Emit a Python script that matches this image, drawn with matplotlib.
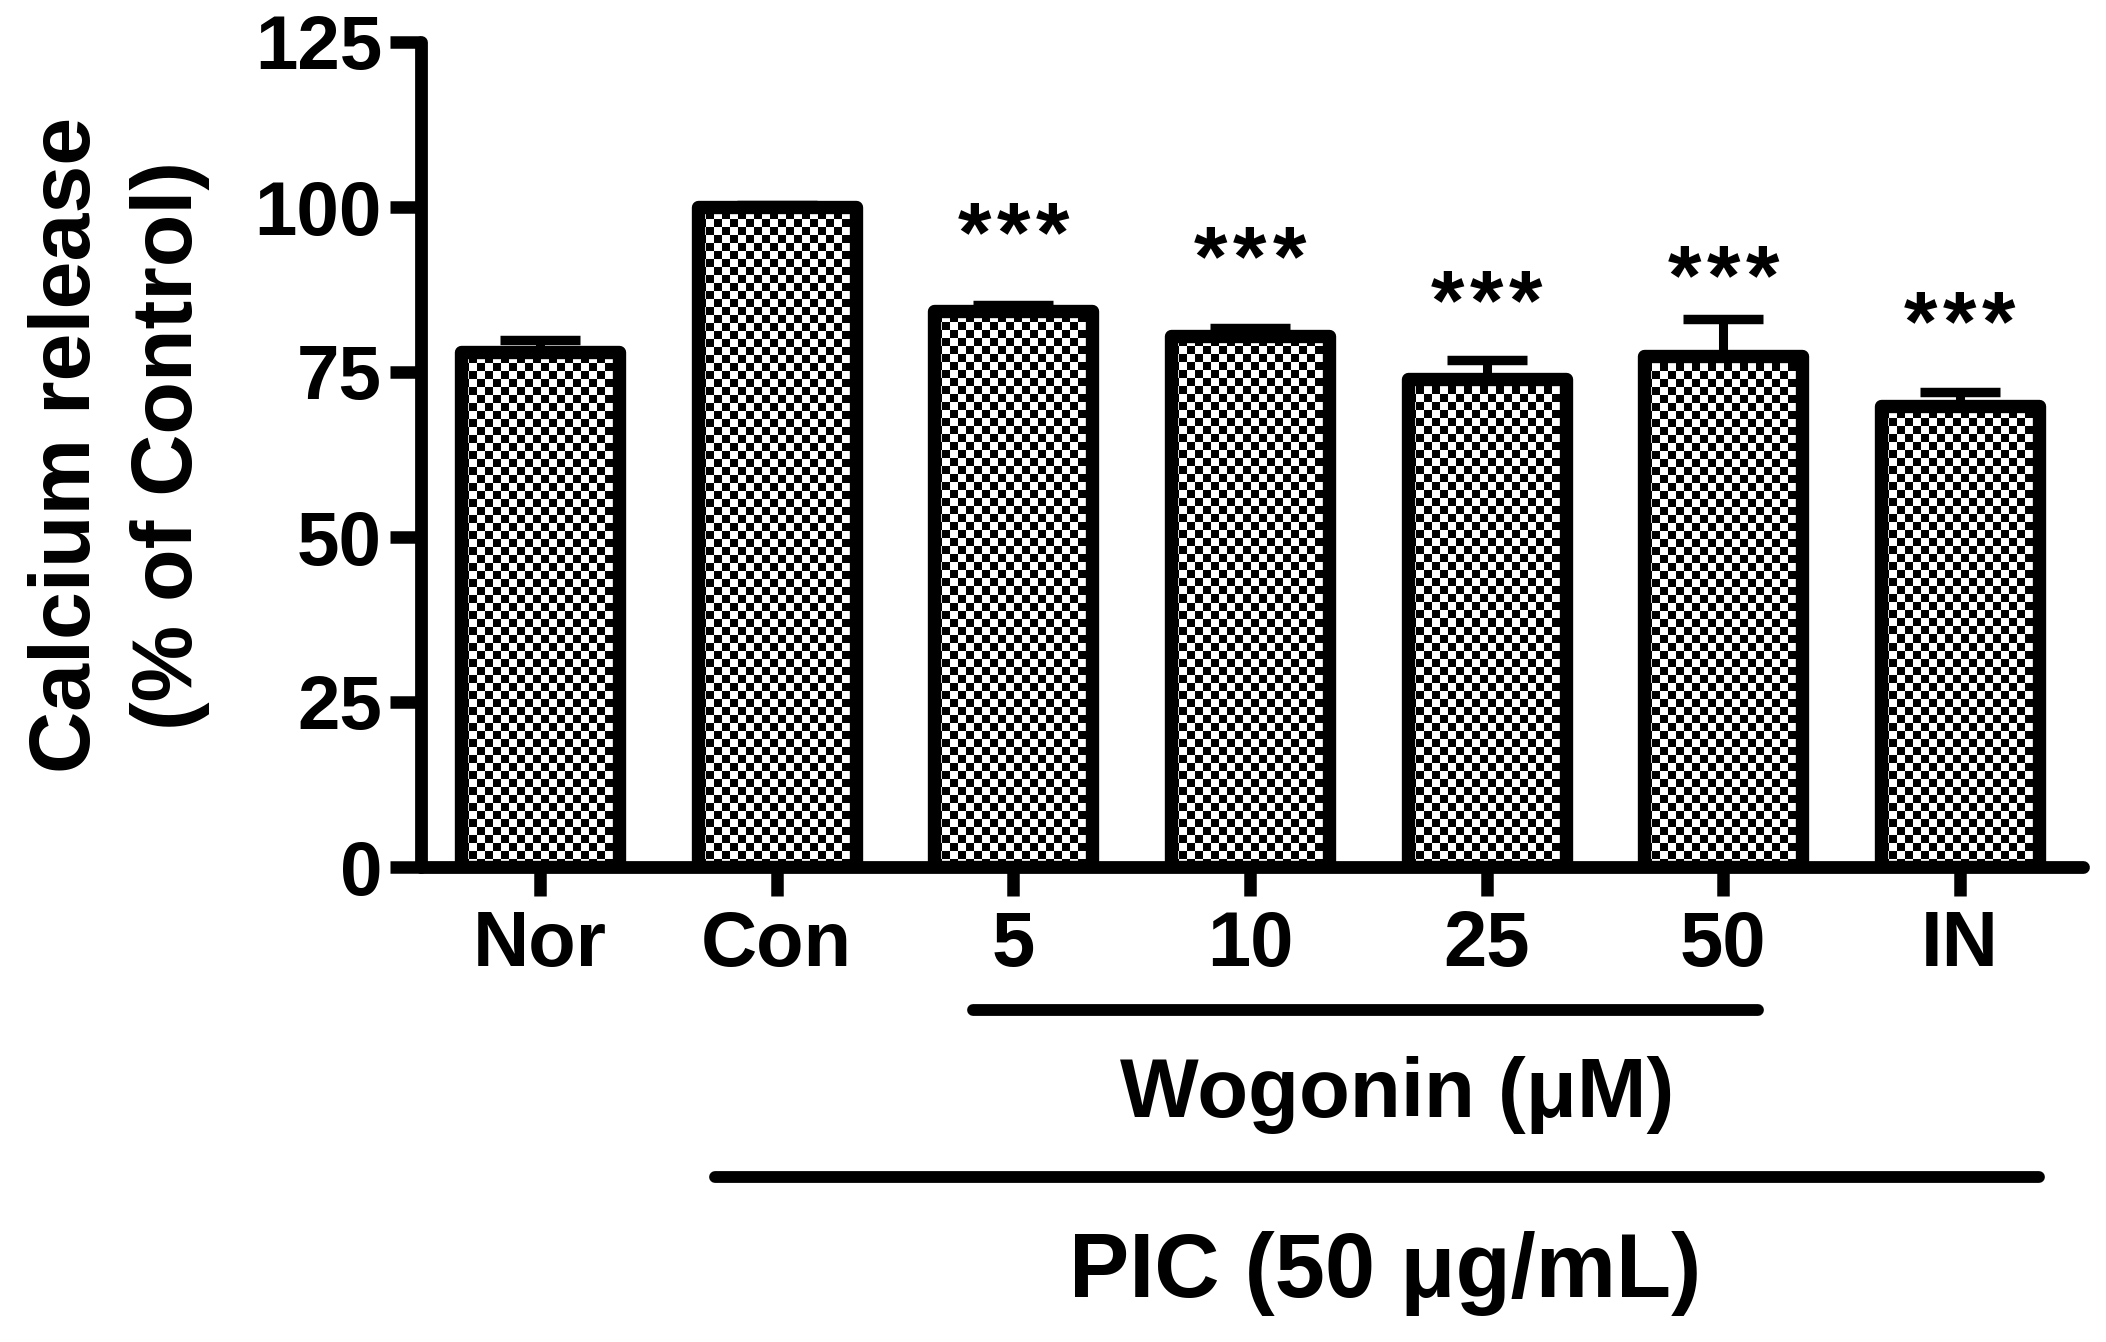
import numpy as np
import matplotlib
matplotlib.use("Agg")
import matplotlib.pyplot as plt
from matplotlib.transforms import blended_transform_factory

plt.rcParams['font.family'] = ['Liberation Sans', 'DejaVu Sans']
plt.rcParams['font.weight'] = 'bold'

# ---- data ----
categories = ["Nor", "Con", "5", "10", "25", "50", "IN"]
means = [78.0, 100.0, 84.3, 80.5, 74.0, 77.4, 69.9]
errors = [1.9, 0.3, 0.8, 1.1, 2.8, 5.7, 2.1]
stars = ["", "", "***", "***", "***", "***", "***"]
star_heights = [0, 0, 98.0, 94.4, 87.7, 91.5, 84.5]
yticks = [0, 25, 50, 75, 100, 125]

W, H, DPI = 2106, 1342, 100
fig = plt.figure(figsize=(W / DPI, H / DPI), dpi=DPI)
ax = fig.add_axes([421 / W, 1 - 867 / H, (2083 - 421) / W, (867 - 42) / H])

x = np.arange(len(categories))
XLIM = (-0.503, 6.52)
YLIM = (0, 125)
ax.set_xlim(*XLIM)
ax.set_ylim(*YLIM)

bar_lw = 9.6
bars = ax.bar(x, means, width=0.667, facecolor='none', edgecolor='black',
              linewidth=bar_lw, zorder=3, joinstyle='round')

# checkerboard fill, clipped to each bar
cell = 8
fig.canvas.draw()
for b in bars:
    x0, y0 = b.get_x(), b.get_y()
    x1, y1 = x0 + b.get_width(), y0 + b.get_height()
    (px0, py0), (px1, py1) = ax.transData.transform([(x0, y0), (x1, y1)])
    nx, ny = int(round(px1 - px0)), int(round(py1 - py0))
    jj, ii = np.meshgrid(np.arange(nx), np.arange(ny))
    img = ((jj // cell + ii // cell) % 2).astype(float)
    im = ax.imshow(img, extent=[x0, x1, y0, y1], origin='lower', cmap='gray',
                   vmin=0, vmax=1, interpolation='nearest', aspect='auto', zorder=2)
    im.set_clip_path(b)

ax.set_xlim(*XLIM)
ax.set_ylim(*YLIM)

# error bars (upper only)
ax.errorbar(x, means, yerr=[np.zeros(len(means)), errors], fmt='none',
            ecolor='black', elinewidth=6.5, capsize=29, capthick=6.8, zorder=2.5)

# significance stars (each asterisk placed separately, visually centred at height)
star_fs = 62
star_step = 0.165
for xi, s, h in zip(x, stars, star_heights):
    n = len(s)
    for k, ch in enumerate(s):
        ax.annotate(ch, xy=(xi + (k - (n - 1) / 2) * star_step, h),
                    xytext=(0, -0.48 * star_fs), textcoords='offset points',
                    ha='center', va='baseline', fontsize=star_fs,
                    fontweight='bold', zorder=4)

# axes styling
for side in ['top', 'right']:
    ax.spines[side].set_visible(False)
for side in ['left', 'bottom']:
    ax.spines[side].set_linewidth(9.2)
    ax.spines[side].set_capstyle('round')
ax.set_yticks(yticks)
ax.set_yticklabels([str(t) for t in yticks])
ax.set_xticks(x)
ax.set_xticklabels(categories)
ax.tick_params(axis='y', length=22, width=9, pad=6, labelsize=55, direction='out')
ax.tick_params(axis='x', length=21, width=9, pad=9, labelsize=56, direction='out')
for lab in ax.get_xticklabels() + ax.get_yticklabels():
    lab.set_fontweight('bold')

# y label
fig.text(119 / W, 1 - 445 / H, "Calcium release\n(% of Control)", rotation=90,
         ha='center', va='center', multialignment='center', fontsize=62,
         fontweight='bold', linespacing=1.35)

# group annotations below the axis
tr = blended_transform_factory(ax.transData, ax.transAxes)
ax.plot([1.83, 5.145], [-0.173, -0.173], transform=tr, color='black', lw=8.5,
        solid_capstyle='round', clip_on=False)
ax.text(3.62, -0.303, "Wogonin (\u03bcM)", transform=tr, ha='center', va='baseline',
        fontsize=60, fontweight='bold')
ax.plot([0.74, 6.333], [-0.376, -0.376], transform=tr, color='black', lw=8.5,
        solid_capstyle='round', clip_on=False)
ax.text(3.57, -0.521, "PIC (50 \u03bcg/mL)", transform=tr, ha='center', va='baseline',
        fontsize=65, fontweight='bold')

fig.savefig("out.png", dpi=DPI, facecolor='white')
